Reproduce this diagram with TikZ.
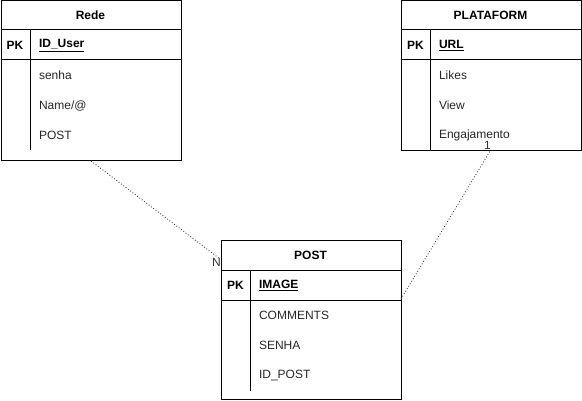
\documentclass[tikz,border=0pt]{standalone}
\usepackage{fontspec}
\setmainfont{Liberation Sans}
\begin{document}
\begin{tikzpicture}[x=1pt,y=-1pt,
  tbl/.style={draw=black,line width=1pt,rectangle,minimum width=180pt,inner sep=0pt,anchor=north west},
  sep/.style={draw=black,line width=1pt},
  hdr/.style={font=\fontsize{12}{14}\selectfont\bfseries,anchor=center},
  pk/.style={font=\fontsize{12}{14}\selectfont\bfseries,anchor=west},
  fld/.style={font=\fontsize{12}{14}\selectfont,anchor=west,text=black!85},
  rel/.style={draw=black!75,line width=0.9pt,dotted},
  card/.style={font=\fontsize{12}{14}\selectfont,text=black!80,inner sep=0pt}]
\useasboundingbox (0,0) rectangle (582,401);
% Rede
\node[tbl,minimum height=159.5pt] (rede) at (0.5,0.5) {};
\draw[sep] (0.5,30) -- (180.5,30) (0.5,60) -- (180.5,60) (30,30) -- (30,150);
\node[hdr] (redeh) at (90.5,15.5) {Rede};
\node[pk,anchor=center] (redepk) at (15,45.5) {PK};
\node[pk] (redeid) at (35.5,45.5) {\underline{ID\_User}};
\node[fld] (rede1) at (35.5,75.5) {senha};
\node[fld] (rede2) at (35.5,105.5) {Name/@};
\node[fld] (rede3) at (35.5,135.5) {POST};
% PLATAFORM
\node[tbl,minimum height=150pt] (plat) at (400.5,0.5) {};
\draw[sep] (400.5,30) -- (580.5,30) (400.5,60) -- (580.5,60) (430.5,30) -- (430.5,150.5);
\node[hdr] (plath) at (490.5,15.5) {PLATAFORM};
\node[pk,anchor=center] (platpk) at (415.5,45.5) {PK};
\node[pk] (platid) at (435.5,45.5) {\underline{URL}};
\node[fld] (plat1) at (435.5,75.5) {Likes};
\node[fld] (plat2) at (435.5,105.5) {View};
\node[fld] (plat3) at (435.5,135.5) {Engajamento};
% POST
\node[tbl,minimum height=158pt] (post) at (220.5,240.5) {};
\draw[sep] (220.5,270.5) -- (400.5,270.5) (220.5,300.5) -- (400.5,300.5) (250.5,270.5) -- (250.5,390.5);
\node[hdr] (posth) at (310.5,255.5) {POST};
\node[pk,anchor=center] (postpk) at (235.5,285.5) {PK};
\node[pk] (postid) at (255.5,285.5) {\underline{IMAGE}};
\node[fld] (post1) at (255.5,315.5) {COMMENTS};
\node[fld] (post2) at (255.5,345.5) {SENHA};
\node[fld] (post3) at (255.5,375.5) {ID\_POST};
% relations
\coordinate (r1a) at (91,161);
\coordinate (r1b) at (220,259);
\coordinate (r2a) at (401,299);
\coordinate (r2b) at (490,151);
\draw[rel] (r1a) -- (r1b);
\draw[rel] (r2a) -- (r2b);
\node[card,anchor=east] (cn) at (221,262) {N};
\node[card,anchor=south] (c1) at (487.5,150) {1};
\end{tikzpicture}
\end{document}
